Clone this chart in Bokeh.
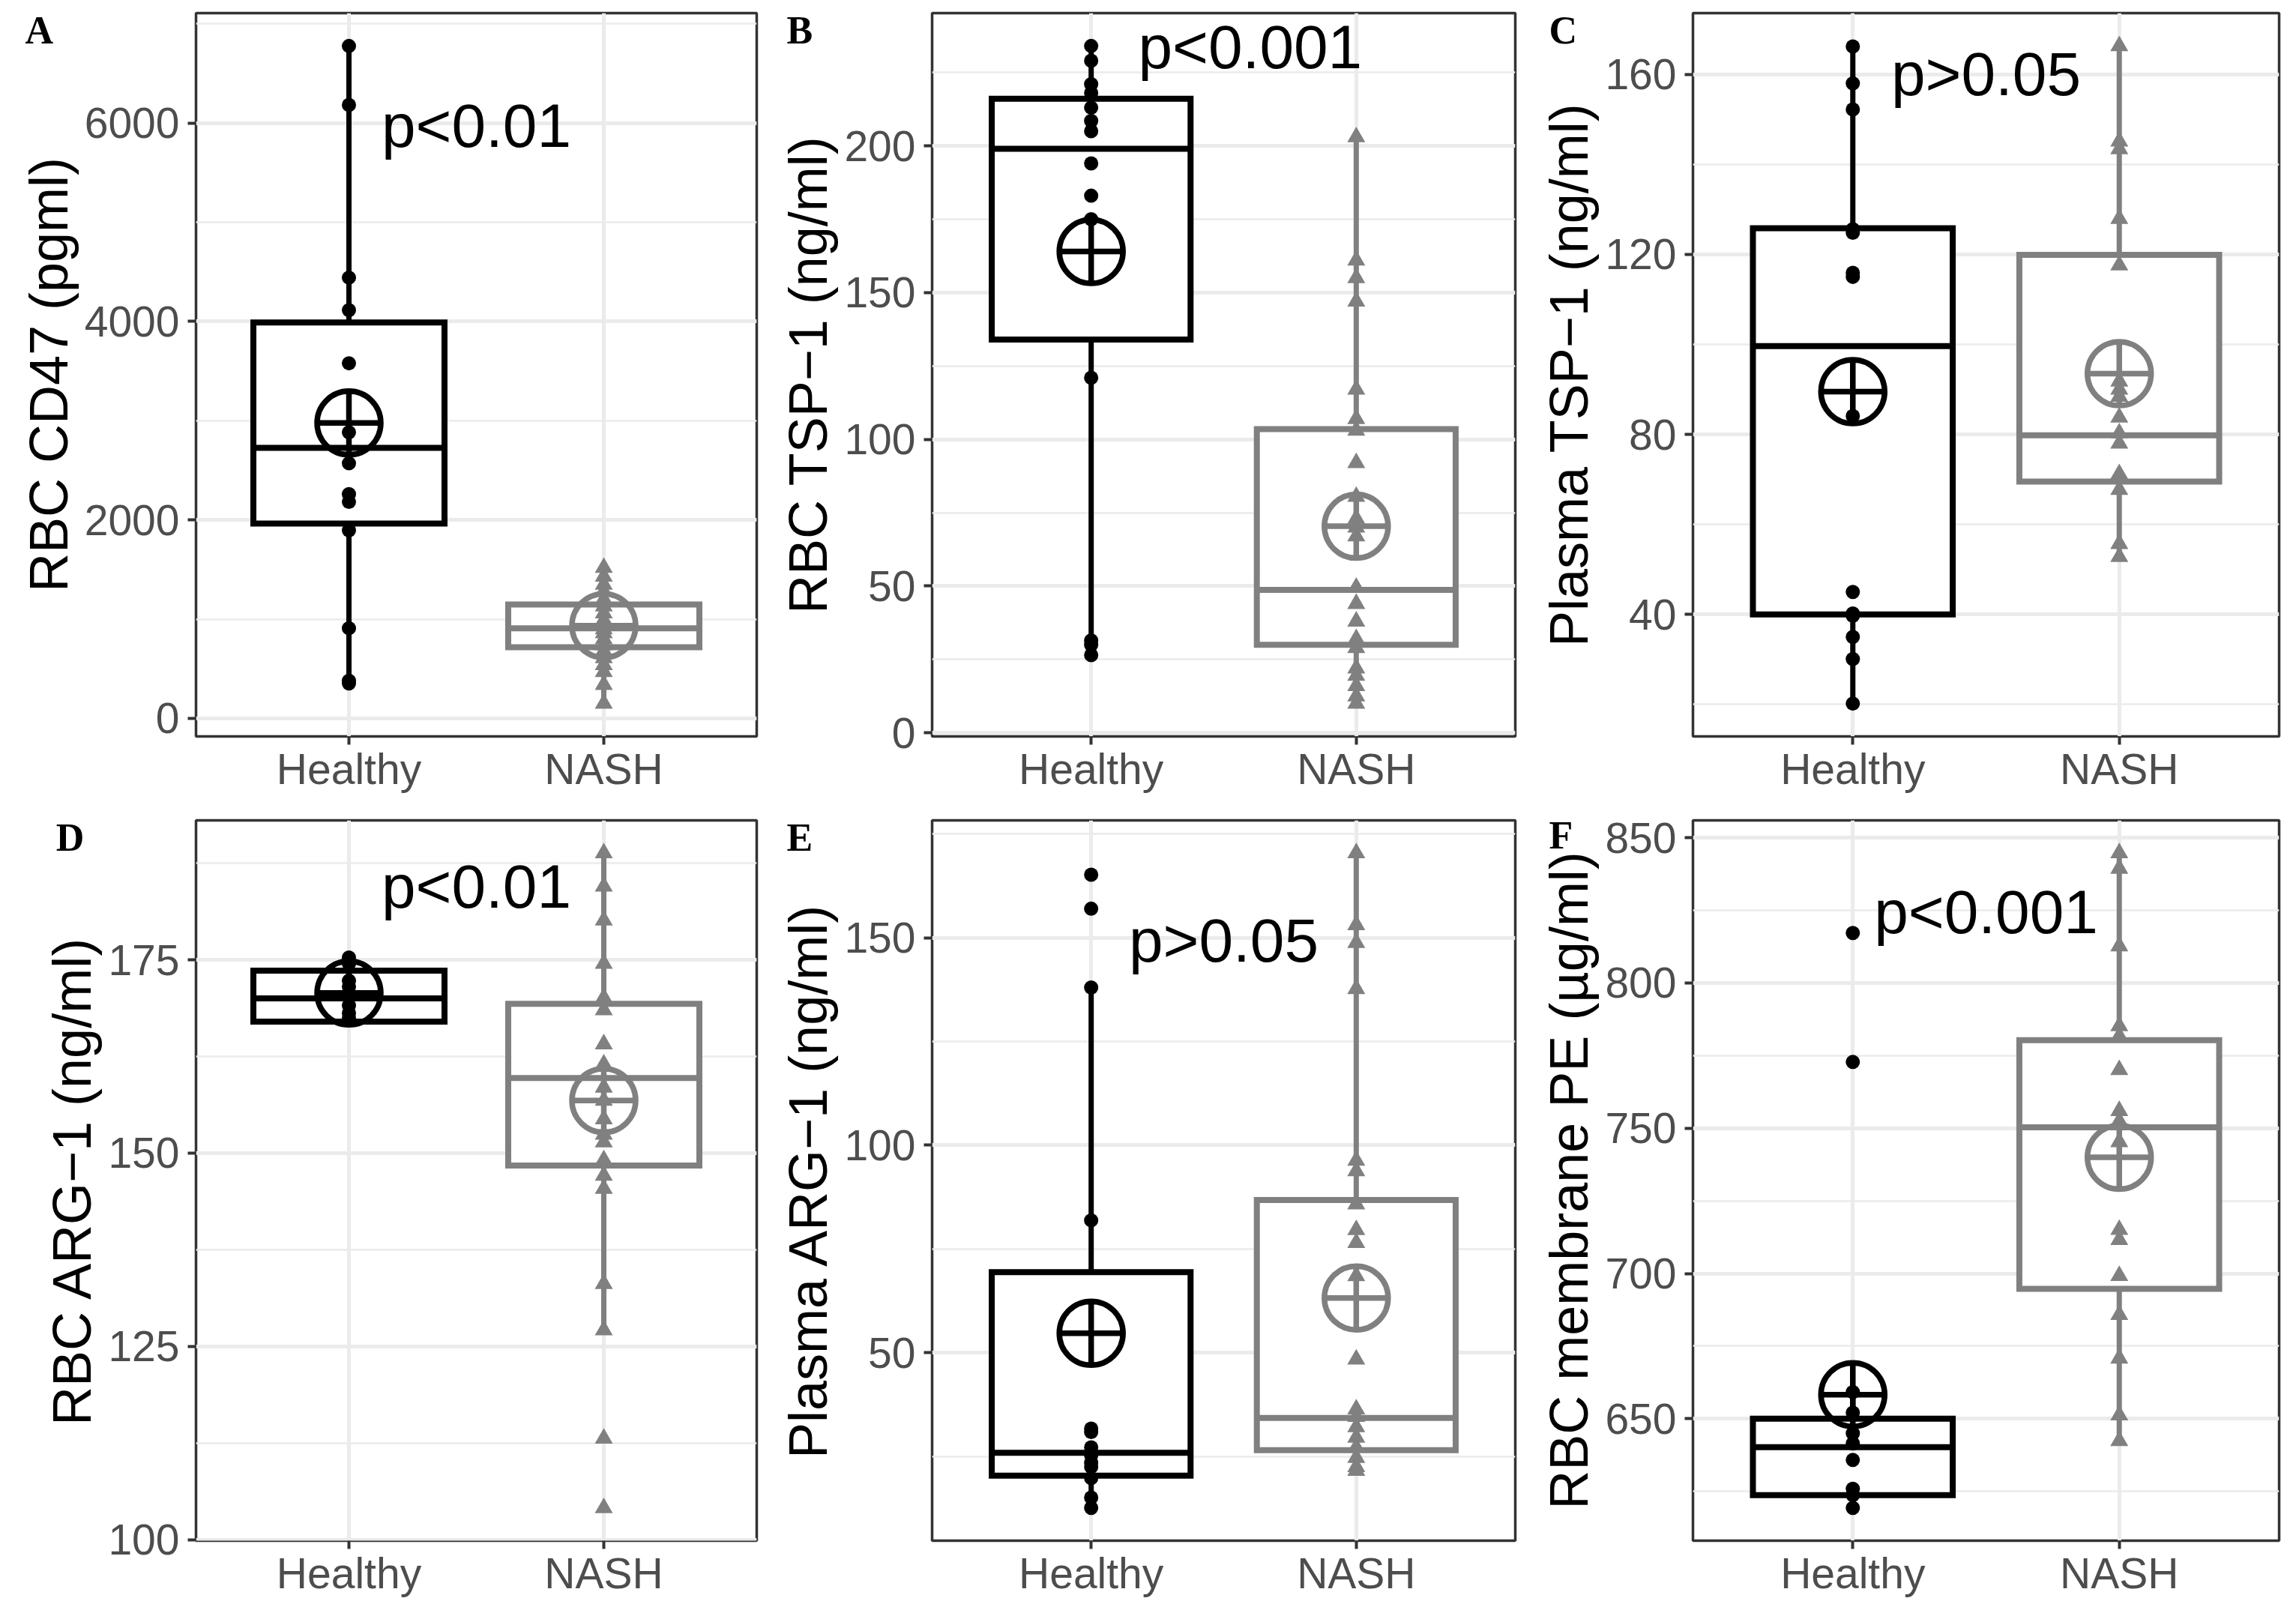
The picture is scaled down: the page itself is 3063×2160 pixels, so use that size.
from bokeh.plotting import figure
from bokeh.layouts import gridplot
from bokeh.models import Range1d, FixedTicker
from bokeh.core.properties import value
from bokeh.embed import file_html
from bokeh.resources import INLINE

# ---------------- data ----------------
groups = ["Healthy", "NASH"]
group_x = [1, 2]
group_colors = ["#000000", "#808080"]

# Panel A : RBC CD47 (pgml)
a_healthy = [6776, 6182, 4442, 4114, 3579, 2883, 2571, 2260, 2182, 1896, 909, 379, 353]
a_nash = [1520, 1430, 1350, 1280, 1200, 1130, 1060, 990, 940, 900, 860, 800, 740, 680, 610, 540, 470, 340, 150]
a_q1 = [1964, 717]
a_med = [2727, 909]
a_q3 = [3990, 1148]
a_lo = [353, 150]
a_hi = [6776, 1520]
a_mean = [2977, 935]
a_major = [0, 2000, 4000, 6000]
a_minor = [1000, 3000, 5000, 7000]
a_ptext = "p<0.01"
a_pxy = [1.5, 5760]

# Panel B : RBC TSP-1 (ng/ml)
b_healthy = [234, 229, 221, 218, 213, 208.5, 205, 194, 183, 175, 121, 31.5, 30, 26.5]
b_nash = [203, 161, 155, 147, 117, 107, 103, 92, 80.5, 73, 70, 67, 49.5, 44, 38, 32, 29, 22, 19.5, 16, 12.5, 10]
b_q1 = [134, 30]
b_med = [199, 48.7]
b_q3 = [216, 103.5]
b_lo = [26.5, 10]
b_hi = [234, 203]
b_mean = [164, 70.4]
b_major = [0, 50, 100, 150, 200]
b_minor = [25, 75, 125, 175, 225]
b_ptext = "p<0.001"
b_pxy = [1.6, 226.5]

# Panel C : Plasma TSP-1 (ng/ml)
c_healthy = [166.2, 158, 152.2, 125.6, 124.8, 115.9, 115, 84.1, 45, 40.2, 39.7, 35, 30.1, 20.2]
c_nash = [166.3, 145.1, 143.4, 127.9, 117.6, 91.8, 90, 88.4, 83.8, 80.3, 78, 71.2, 67.7, 55.7, 52.8]
c_q1 = [40, 69.5]
c_med = [99.6, 79.8]
c_q3 = [125.8, 119.9]
c_lo = [20.2, 52.8]
c_hi = [166.2, 166.3]
c_mean = [89.5, 93.5]
c_major = [40, 80, 120, 160]
c_minor = [20, 60, 100, 140]
c_ptext = "p>0.05"
c_pxy = [1.5, 155.4]

# Panel D : RBC ARG-1 (ng/ml)
d_healthy = [175.3, 174.5, 172.3, 171.5, 170.5, 169.1, 168.1, 167.5]
d_nash = [188.8, 184.5, 180.1, 174.5, 170.1, 168.5, 164.1, 161.5, 158.5, 156.8, 154.4, 152.4,
          151.4, 149.1, 147.1, 145.4, 133.1, 127.1, 113.1, 104.1]
d_q1 = [167.0, 148.4]
d_med = [170.0, 159.7]
d_q3 = [173.6, 169.3]
d_lo = [167.0, 127.1]
d_hi = [175.3, 188.8]
d_mean = [170.7, 156.8]
d_major = [100, 125, 150, 175]
d_minor = [112.5, 137.5, 162.5, 187.5]
d_ptext = "p<0.01"
d_pxy = [1.5, 181.8]

# Panel E : Plasma ARG-1 (ng/ml)
e_healthy = [165.2, 157, 138, 81.9, 31.7, 30.9, 27.2, 25.3, 23.5, 22.5, 19.8, 15.1, 12.6]
e_nash = [170.4, 153.1, 148.8, 137.7, 96.3, 93.8, 85.8, 79.6, 76.5, 68.5, 48.4, 36.4, 34.6,
          32.1, 29.6, 27.2, 24.7, 22.5, 21.6]
e_q1 = [20.4, 26.5]
e_med = [25.9, 34.3]
e_q3 = [69.4, 86.8]
e_lo = [12.6, 21.6]
e_hi = [138, 170.4]
e_mean = [54.7, 63.2]
e_major = [50, 100, 150]
e_minor = [25, 75, 125, 175]
e_ptext = "p>0.05"
e_pxy = [1.5, 144.4]

# Panel F : RBC membrane PE (µg/ml)
f_healthy = [817.2, 772.8, 659.2, 652.1, 645, 641.5, 635.8, 625.9, 623.7, 619.3]
f_nash = [844.7, 839.4, 812.7, 785.2, 781.7, 770.1, 756, 752.4, 745.3, 715.1, 711.6, 699.2,
          685.8, 670.8, 651.2, 642.4]
f_q1 = [623.7, 694.7]
f_med = [640.2, 750.3]
f_q3 = [650, 780.3]
f_lo = [619.3, 642.4]
f_hi = [659.2, 844.7]
f_mean = [658.3, 740]
f_major = [650, 700, 750, 800, 850]
f_minor = [625, 675, 725, 775, 825]
f_ptext = "p<0.001"
f_pxy = [1.5, 817.2]

letters = ["A", "B", "C", "D", "E", "F"]
ylabels = ["RBC CD47 (pgml)", "RBC TSP\u22121 (ng/ml)", "Plasma TSP\u22121 (ng/ml)",
           "RBC ARG\u22121 (ng/ml)", "Plasma ARG\u22121 (ng/ml)", "RBC membrane PE (\u00b5g/ml)"]

# ---------------- layout (page px) ----------------
col_x = [0, 1021, 2042]
col_w = [1021, 1021, 1020]
row_y = [0, 1080]
row_h = [1080, 1079]
# frame borders: (left, right, top, bottom)
borders = [
    (261, 12, 17, 98), (222, 21, 17, 98), (216, 22, 17, 98),
    (228, 12, 14, 104), (222, 21, 14, 104), (216, 22, 14, 104),
]
letter_pos = [(33, 51), (1049, 51), (2066, 51), (33, 1128), (1049, 1128), (2066, 1125)]
P_SHIFT = -28       # baseline correction for the 82px svg text
LETTER_SHIFT = -11  # baseline correction for the letter text

SANS = "Liberation Sans"
BOX_W = 0.75
X0, X1 = 0.4, 2.6


def make_panel(i, healthy, nash, q1, med, q3, lo, hi, mean, major, minor, ptext, pxy):
    r, c = divmod(i, 3)
    bl, br, bt, bb = borders[i]
    allv = healthy + nash + lo + hi
    mn, mx = min(allv), max(allv)
    pad = 0.05 * (mx - mn)
    y0, y1 = mn - pad, mx + pad
    p = figure(width=col_w[c], height=row_h[r], output_backend="svg", toolbar_location=None,
               x_range=Range1d(X0, X1), y_range=Range1d(y0, y1),
               min_border_left=bl, min_border_right=br, min_border_top=bt, min_border_bottom=bb,
               background_fill_color="white", border_fill_color="white")
    p.outline_line_color = "#333333"
    p.outline_line_width = 3.5

    # axes
    p.xaxis.ticker = FixedTicker(ticks=group_x)
    p.xaxis.major_label_overrides = {gx: g for gx, g in zip(group_x, groups)}
    p.yaxis.ticker = FixedTicker(ticks=major, minor_ticks=minor)
    for ax in (p.xaxis[0], p.yaxis[0]):
        ax.axis_line_color = None
        ax.major_tick_line_color = "#333333"
        ax.major_tick_line_width = 4
        ax.major_tick_out = 11
        ax.major_tick_in = 0
        ax.minor_tick_line_color = None
        ax.major_label_text_font = SANS
        ax.major_label_text_font_size = "57px"
        ax.major_label_text_color = "#4D4D4D"
    p.xaxis.major_label_standoff = 0
    p.yaxis.major_label_standoff = 11
    p.yaxis.axis_label = ylabels[i]
    p.yaxis.axis_label_text_font = SANS
    p.yaxis.axis_label_text_font_size = "72px"
    p.yaxis.axis_label_text_font_style = "normal"
    p.yaxis.axis_label_text_color = "#000000"
    p.yaxis.axis_label_standoff = 5

    # grid
    p.xgrid.grid_line_color = "#EBEBEB"
    p.xgrid.grid_line_width = 5
    p.ygrid.grid_line_color = "#EBEBEB"
    p.ygrid.grid_line_width = 5
    p.ygrid.minor_grid_line_color = "#EBEBEB"
    p.ygrid.minor_grid_line_width = 2.5

    # whiskers
    p.segment(x0=group_x, y0=q3, x1=group_x, y1=hi, line_color=group_colors, line_width=7)
    p.segment(x0=group_x, y0=q1, x1=group_x, y1=lo, line_color=group_colors, line_width=7)
    # boxes
    lefts = [gx - BOX_W / 2 for gx in group_x]
    rights = [gx + BOX_W / 2 for gx in group_x]
    p.quad(left=lefts, right=rights, bottom=q1, top=q3, fill_color="white",
           line_color=group_colors, line_width=8, line_join="miter")
    p.segment(x0=lefts, y0=med, x1=rights, y1=med, line_color=group_colors, line_width=8)

    # points
    p.scatter(x=[group_x[0]] * len(healthy), y=healthy, marker="circle", size=19,
              fill_color=group_colors[0], line_color=None)
    p.scatter(x=[group_x[1]] * len(nash), y=nash, marker="triangle", size=24,
              fill_color=group_colors[1], line_color=None)
    # means
    p.scatter(x=group_x, y=mean, marker="circle_cross", size=85, fill_color=None,
              line_color=group_colors, line_width=7.5)

    # p value
    p.text(x=[pxy[0]], y=[pxy[1]], text=[ptext], text_font=value(SANS), text_font_size="82px",
           text_align="center", text_baseline="alphabetic", text_color="#000000",
           y_offset=P_SHIFT)

    # panel letter: a text renderer at annotation level (not clipped to the frame)
    lx, ly = letter_pos[i]
    f_left = col_x[c] + bl
    f_top = row_y[r] + bt
    f_w = col_w[c] - bl - br
    f_h = row_h[r] - bt - bb
    xd = X0 + (lx - f_left) * (X1 - X0) / f_w
    yd = y1 - (ly - f_top) * (y1 - y0) / f_h
    p.text(x=[xd], y=[yd], text=[letters[i]], level="annotation",
           text_font=value("Liberation Serif"), text_font_style="bold", text_font_size="52px",
           text_align="left", text_baseline="alphabetic", text_color="#000000",
           y_offset=LETTER_SHIFT)
    return p


pa = make_panel(0, a_healthy, a_nash, a_q1, a_med, a_q3, a_lo, a_hi, a_mean, a_major, a_minor, a_ptext, a_pxy)
pb = make_panel(1, b_healthy, b_nash, b_q1, b_med, b_q3, b_lo, b_hi, b_mean, b_major, b_minor, b_ptext, b_pxy)
pc = make_panel(2, c_healthy, c_nash, c_q1, c_med, c_q3, c_lo, c_hi, c_mean, c_major, c_minor, c_ptext, c_pxy)
pd_ = make_panel(3, d_healthy, d_nash, d_q1, d_med, d_q3, d_lo, d_hi, d_mean, d_major, d_minor, d_ptext, d_pxy)
pe = make_panel(4, e_healthy, e_nash, e_q1, e_med, e_q3, e_lo, e_hi, e_mean, e_major, e_minor, e_ptext, e_pxy)
pf = make_panel(5, f_healthy, f_nash, f_q1, f_med, f_q3, f_lo, f_hi, f_mean, f_major, f_minor, f_ptext, f_pxy)

grid = gridplot([[pa, pb, pc], [pd_, pe, pf]], toolbar_location=None)

open("out.html", "w").write(file_html(grid, INLINE))
